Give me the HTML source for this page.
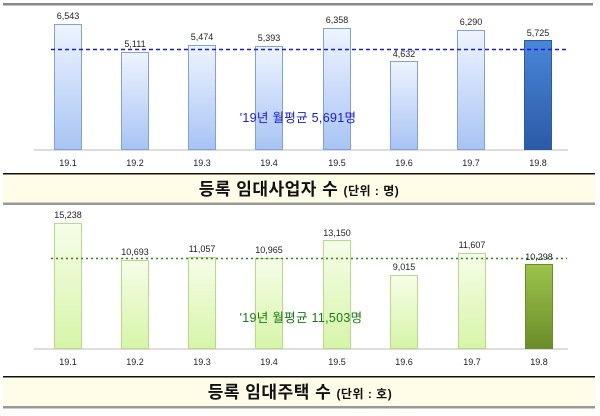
<!DOCTYPE html>
<html><head><meta charset="utf-8"><style>
body{margin:0;background:#fff;width:600px;height:411px;overflow:hidden}
svg text{font-family:"Liberation Sans","Noto Sans CJK KR",sans-serif}
</style></head><body>
<svg width="600" height="411" viewBox="0 0 600 411" xmlns="http://www.w3.org/2000/svg">
<defs>
<linearGradient id="b1" x1="0" y1="0" x2="0" y2="1"><stop offset="0" stop-color="#eef4ff"/><stop offset="1" stop-color="#a8c4f4"/></linearGradient>
<linearGradient id="b1d" x1="0" y1="0" x2="0" y2="1"><stop offset="0" stop-color="#4a86d8"/><stop offset="1" stop-color="#2a5aa8"/></linearGradient>
<linearGradient id="g1" x1="0" y1="0" x2="0" y2="1"><stop offset="0" stop-color="#f6fde8"/><stop offset="1" stop-color="#d6f5a8"/></linearGradient>
<linearGradient id="g1d" x1="0" y1="0" x2="0" y2="1"><stop offset="0" stop-color="#9cc44a"/><stop offset="1" stop-color="#6a8c2a"/></linearGradient>
</defs>
<rect x="3" y="3" width="590" height="2.5" fill="#888"/>
<!-- chart 1 -->
<rect x="34" y="149" width="534" height="2" fill="#ddd"/>
<g stroke="#7fa3d8" stroke-width="1" fill="url(#b1)">
<rect x="54.5" y="24.5" width="27" height="125"/>
<rect x="121.5" y="52.5" width="27" height="97"/>
<rect x="188.5" y="45.5" width="27" height="104"/>
<rect x="255.5" y="46.5" width="27" height="103"/>
<rect x="323.5" y="28.5" width="27" height="121"/>
<rect x="390.5" y="61.5" width="27" height="88"/>
<rect x="457.5" y="30.5" width="27" height="119"/>
<rect x="524.5" y="40.5" width="27" height="109" fill="url(#b1d)" stroke="#2a5aa8"/>
</g>
<line x1="51" y1="49.5" x2="567" y2="49.5" stroke="#1a1adc" stroke-width="1.5" stroke-dasharray="4,3"/>
<g font-size="9" fill="#222" text-anchor="middle">
<text x="68" y="19">6,543</text><text x="135" y="47">5,111</text><text x="202" y="40">5,474</text><text x="269" y="41">5,393</text>
<text x="337" y="23">6,358</text><text x="404" y="57">4,632</text><text x="471" y="25">6,290</text><text x="538" y="36">5,725</text>
<text x="68" y="166">19.1</text><text x="135" y="166">19.2</text><text x="202" y="166">19.3</text><text x="269" y="166">19.4</text>
<text x="337" y="166">19.5</text><text x="404" y="166">19.6</text><text x="471" y="166">19.7</text><text x="538" y="166">19.8</text>
</g>
<text x="298" y="122" font-size="12.5" fill="#1a1adc" text-anchor="middle" letter-spacing="0.3">'19년  월평균  5,691명</text>
<rect x="3" y="173" width="592" height="1.5" fill="#111"/>
<rect x="3" y="174.5" width="592" height="28" fill="#fffde8"/>
<rect x="3" y="202.5" width="592" height="2.5" fill="#999"/>
<text x="299" y="195" font-size="17" font-weight="bold" fill="#111" text-anchor="middle" letter-spacing="0.5">등록 임대사업자 수 <tspan font-size="12">(단위 : 명)</tspan></text>
<!-- chart 2 -->
<rect x="34" y="348" width="534" height="2" fill="#ddd"/>
<g stroke="#b8d88a" stroke-width="1" fill="url(#g1)">
<rect x="54.5" y="223.5" width="27" height="125"/>
<rect x="121.5" y="260.5" width="27" height="88"/>
<rect x="188.5" y="257.5" width="27" height="91"/>
<rect x="255.5" y="258.5" width="27" height="90"/>
<rect x="323.5" y="240.5" width="27" height="108"/>
<rect x="390.5" y="275.5" width="27" height="73"/>
<rect x="458.5" y="253.5" width="27" height="95"/>
<rect x="525.5" y="264.5" width="27" height="84" fill="url(#g1d)" stroke="#6a8c2a"/>
</g>
<line x1="51" y1="258.5" x2="567" y2="258.5" stroke="#2a8a10" stroke-width="1.5" stroke-dasharray="2,3"/>
<g font-size="9" fill="#222" text-anchor="middle">
<text x="68" y="218">15,238</text><text x="135" y="255">10,693</text><text x="202" y="252">11,057</text><text x="269" y="253">10,965</text>
<text x="337" y="236">13,150</text><text x="404" y="270">9,015</text><text x="472" y="248">11,607</text><text x="539" y="260">10,298</text>
<text x="68" y="365">19.1</text><text x="135" y="365">19.2</text><text x="202" y="365">19.3</text><text x="269" y="365">19.4</text>
<text x="337" y="365">19.5</text><text x="404" y="365">19.6</text><text x="472" y="365">19.7</text><text x="539" y="365">19.8</text>
</g>
<text x="301" y="322" font-size="12.5" fill="#1a7a10" text-anchor="middle" letter-spacing="0.3">'19년  월평균  11,503명</text>
<rect x="3" y="376" width="592" height="1.5" fill="#111"/>
<rect x="3" y="377.5" width="592" height="28.5" fill="#fffde8"/>
<rect x="3" y="406" width="592" height="2.5" fill="#999"/>
<text x="300" y="398" font-size="17" font-weight="bold" fill="#111" text-anchor="middle" letter-spacing="0.5">등록 임대주택 수 <tspan font-size="12">(단위 : 호)</tspan></text>
</svg>
</body></html>
